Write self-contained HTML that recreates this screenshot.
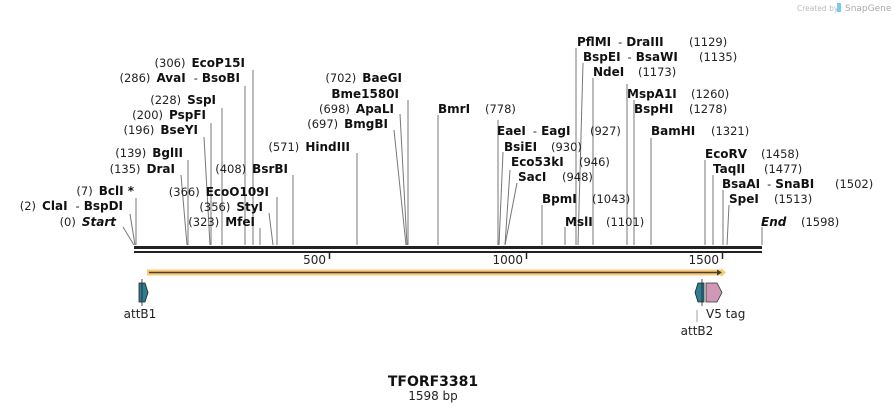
<!DOCTYPE html>
<html><head><meta charset="utf-8"><style>
html,body{margin:0;padding:0;background:#fff;}
svg{display:block;}
.n{font-family:"DejaVu Sans","Liberation Sans",sans-serif;font-size:11.5px;fill:#222;font-weight:normal;}
.b{font-family:"DejaVu Sans","Liberation Sans",sans-serif;font-size:12px;font-weight:bold;fill:#111;}
.l{stroke:#777;stroke-width:1;fill:none;}
.f{font-family:"DejaVu Sans","Liberation Sans",sans-serif;font-size:12px;fill:#222;}
</style></head><body>
<svg width="895" height="412" viewBox="0 0 895 412" xmlns="http://www.w3.org/2000/svg">
<text x="797" y="11" font-family="DejaVu Sans, sans-serif" font-size="7.5" fill="#bbb">Created by</text>
<rect x="837" y="3" width="4" height="9" fill="#7cc8f0"/>
<text x="845" y="11" font-family="DejaVu Sans, sans-serif" font-size="9" fill="#aaa">SnapGene</text>

<g class="l">
<path d="M123,227 L134,245"/><path d="M130,214 L135,245"/><path d="M136,198 V245"/>
<path d="M181,175 L187,245"/><path d="M188,160 V245"/><path d="M204,137 L210,245"/>
<path d="M211,123 V245"/><path d="M222,108 V245"/><path d="M245,86 V245"/><path d="M253,70 V245"/>
<path d="M260,228 V245"/><path d="M269,213 L273,245"/><path d="M277,197 V245"/><path d="M293,175 V245"/>
<path d="M357,153 V245"/><path d="M394,130 L406,245"/><path d="M400,114 L407,245"/><path d="M408,100 V245"/>
<path d="M438,115 V245"/>
<path d="M576,48 V245"/><path d="M583,63 L578,245"/><path d="M593,78 V245"/>
<path d="M627,84 V245"/><path d="M634,100 V245"/><path d="M651,138 V245"/>
<path d="M498,120 V245"/><path d="M503,152 L499,245"/><path d="M510,170 L505,245"/><path d="M517,183 L505,245"/>
<path d="M542,205 V245"/><path d="M565,227 V245"/>
<path d="M705,160 V245"/><path d="M713,175 V245"/><path d="M723,190 V245"/><path d="M729,205 L727,245"/><path d="M762,227 V245"/>
</g>

<g>
<text x="116" y="226" text-anchor="end"><tspan class="n">(0)</tspan><tspan class="b" dx="6" font-style="italic">Start</tspan></text>
<text x="123" y="210" text-anchor="end"><tspan class="n">(2)</tspan><tspan class="b" dx="6">ClaI</tspan><tspan class="n" dx="8">-</tspan><tspan class="b" dx="4">BspDI</tspan></text>
<text x="134" y="195" text-anchor="end"><tspan class="n">(7)</tspan><tspan class="b" dx="6">BclI *</tspan></text>
<text x="175" y="173" text-anchor="end"><tspan class="n">(135)</tspan><tspan class="b" dx="6">DraI</tspan></text>
<text x="183" y="157" text-anchor="end"><tspan class="n">(139)</tspan><tspan class="b" dx="6">BglII</tspan></text>
<text x="198" y="134" text-anchor="end"><tspan class="n">(196)</tspan><tspan class="b" dx="6">BseYI</tspan></text>
<text x="206" y="119" text-anchor="end"><tspan class="n">(200)</tspan><tspan class="b" dx="6">PspFI</tspan></text>
<text x="216" y="104" text-anchor="end"><tspan class="n">(228)</tspan><tspan class="b" dx="6">SspI</tspan></text>
<text x="240" y="82" text-anchor="end"><tspan class="n">(286)</tspan><tspan class="b" dx="6">AvaI</tspan><tspan class="n" dx="8">-</tspan><tspan class="b" dx="4">BsoBI</tspan></text>
<text x="245" y="67" text-anchor="end"><tspan class="n">(306)</tspan><tspan class="b" dx="6">EcoP15I</tspan></text>
<text x="255" y="226" text-anchor="end"><tspan class="n">(323)</tspan><tspan class="b" dx="6">MfeI</tspan></text>
<text x="263" y="211" text-anchor="end"><tspan class="n">(356)</tspan><tspan class="b" dx="6">StyI</tspan></text>
<text x="269" y="196" text-anchor="end"><tspan class="n">(366)</tspan><tspan class="b" dx="6">EcoO109I</tspan></text>
<text x="288" y="173" text-anchor="end"><tspan class="n">(408)</tspan><tspan class="b" dx="6">BsrBI</tspan></text>
<text x="350" y="151" text-anchor="end"><tspan class="n">(571)</tspan><tspan class="b" dx="6">HindIII</tspan></text>
<text x="388" y="128" text-anchor="end"><tspan class="n">(697)</tspan><tspan class="b" dx="6">BmgBI</tspan></text>
<text x="394" y="113" text-anchor="end"><tspan class="n">(698)</tspan><tspan class="b" dx="6">ApaLI</tspan></text>
<text x="399" y="98" text-anchor="end" class="b">Bme1580I</text>
<text x="402" y="82" text-anchor="end"><tspan class="n">(702)</tspan><tspan class="b" dx="6">BaeGI</tspan></text>
</g>

<g>
<text x="438" y="113" class="b">BmrI</text><text x="485" y="113" class="n">(778)</text>
<text x="577" y="46" class="b">PflMI<tspan class="n" dx="7">-</tspan><tspan dx="4">DraIII</tspan></text><text x="689" y="46" class="n">(1129)</text>
<text x="583" y="61" class="b">BspEI<tspan class="n" dx="7">-</tspan><tspan dx="4">BsaWI</tspan></text><text x="699" y="61" class="n">(1135)</text>
<text x="593" y="76" class="b">NdeI</text><text x="638" y="76" class="n">(1173)</text>
<text x="627" y="98" class="b">MspA1I</text><text x="691" y="98" class="n">(1260)</text>
<text x="634" y="113" class="b">BspHI</text><text x="689" y="113" class="n">(1278)</text>
<text x="651" y="135" class="b">BamHI</text><text x="711" y="135" class="n">(1321)</text>
<text x="497" y="135" class="b">EaeI<tspan class="n" dx="7">-</tspan><tspan dx="4">EagI</tspan></text><text x="590" y="135" class="n">(927)</text>
<text x="504" y="151" class="b">BsiEI</text><text x="551" y="151" class="n">(930)</text>
<text x="511" y="166" class="b">Eco53kI</text><text x="579" y="166" class="n">(946)</text>
<text x="518" y="181" class="b">SacI</text><text x="562" y="181" class="n">(948)</text>
<text x="542" y="203" class="b">BpmI</text><text x="592" y="203" class="n">(1043)</text>
<text x="565" y="226" class="b">MslI</text><text x="606" y="226" class="n">(1101)</text>
<text x="705" y="158" class="b">EcoRV</text><text x="761" y="158" class="n">(1458)</text>
<text x="713" y="173" class="b">TaqII</text><text x="764" y="173" class="n">(1477)</text>
<text x="722" y="188" class="b">BsaAI<tspan class="n" dx="7">-</tspan><tspan dx="4">SnaBI</tspan></text><text x="835" y="188" class="n">(1502)</text>
<text x="729" y="203" class="b">SpeI</text><text x="774" y="203" class="n">(1513)</text>
<text x="761" y="226" class="b" font-style="italic">End</text><text x="801" y="226" class="n">(1598)</text>
</g>

<rect x="134" y="246" width="628" height="3" fill="#222"/>
<rect x="134" y="251" width="628" height="2" fill="#222"/>
<g stroke="#222" stroke-width="1.5">
<path d="M329.5,252 V259"/><path d="M526.5,252 V259"/><path d="M722.5,252 V259"/>
</g>
<text x="326" y="264" text-anchor="end" class="f" font-size="11">500</text>
<text x="523" y="264" text-anchor="end" class="f" font-size="11">1000</text>
<text x="719" y="264" text-anchor="end" class="f" font-size="11">1500</text>

<rect x="147" y="269.5" width="574" height="6" fill="#f9c97a"/>
<path d="M721,268 L726,272.5 L721,277 Z" fill="#f9c97a"/>
<line x1="149" y1="272.5" x2="718" y2="272.5" stroke="#4a3f2c" stroke-width="1.5"/>
<path d="M717,269.5 L722,272.5 L717,275.5 Z" fill="#4a3f2c"/>

<path d="M139,283 H145 L148,292.5 L145,302 H139 Z" fill="#2f7d93" stroke="#222" stroke-width="0.8"/>
<line x1="142" y1="279" x2="142" y2="306" stroke="#222" stroke-width="0.8"/>
<text x="140" y="318" text-anchor="middle" class="f">attB1</text>
<path d="M704,283 H698 L695,292.5 L698,302 H704 Z" fill="#2f7d93" stroke="#222" stroke-width="0.8"/>
<line x1="702" y1="279" x2="702" y2="306" stroke="#222" stroke-width="0.8"/>
<line x1="697" y1="310" x2="697" y2="322" stroke="#888" stroke-width="0.8"/>
<path d="M706,283 H717 L722,292.5 L717,302 H706 Z" fill="#cf98b4" stroke="#333" stroke-width="0.8"/>
<text x="706" y="318" class="f">V5 tag</text>
<text x="697" y="335" text-anchor="middle" class="f">attB2</text>

<text x="433" y="386" text-anchor="middle" font-family="DejaVu Sans, sans-serif" font-size="14" font-weight="bold" fill="#111">TFORF3381</text>
<text x="433" y="400" text-anchor="middle" class="f" font-size="11">1598 bp</text>
</svg>
</body></html>
